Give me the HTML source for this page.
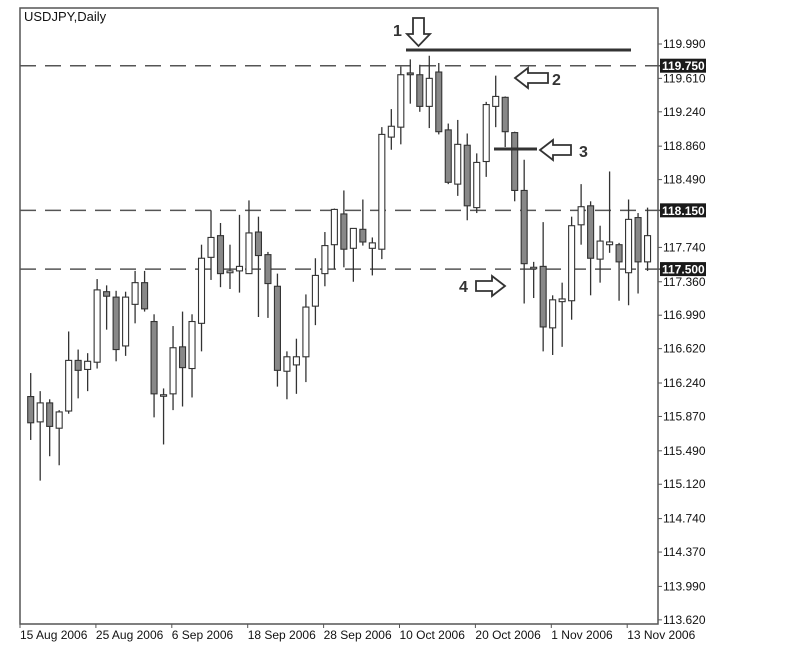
<!DOCTYPE html>
<html><head><meta charset="utf-8"><style>
body{margin:0;background:#fff;}
svg{display:block;font-family:"Liberation Sans",sans-serif;}
</style></head><body>
<svg id="chart" width="804" height="656" xmlns="http://www.w3.org/2000/svg">
<rect x="0" y="0" width="804" height="656" fill="#fff"/>
<text x="24" y="21" font-size="13" fill="#111">USDJPY,Daily</text>
<g id="grid"></g><g id="candles"></g><g id="axes"></g>
<g>
<line x1="406" y1="50" x2="631" y2="50" stroke="#333" stroke-width="3"/>
<path d="M413,18 L424,18 L424,34 L430,34 L418.5,46 L407,34 L413,34 Z" fill="#fff" stroke="#333" stroke-width="1.8"/>
<text x="393" y="36" font-size="16" font-weight="bold" fill="#333">1</text>
<path d="M515,78 L528,68 L528,73 L548,73 L548,83 L528,83 L528,88 Z" fill="#fff" stroke="#333" stroke-width="1.8"/>
<text x="552" y="85" font-size="16" font-weight="bold" fill="#333">2</text>
<line x1="494" y1="149" x2="537" y2="149" stroke="#333" stroke-width="3"/>
<path d="M540,150 L553,140 L553,145 L571,145 L571,155 L553,155 L553,160 Z" fill="#fff" stroke="#333" stroke-width="1.8"/>
<text x="579" y="157" font-size="16" font-weight="bold" fill="#333">3</text>
<path d="M505,286 L492,276 L492,281 L476,281 L476,291 L492,291 L492,296 Z" fill="#fff" stroke="#333" stroke-width="1.8"/>
<text x="459" y="292" font-size="16" font-weight="bold" fill="#333">4</text>
</g>
</svg>
<script>
const opens=[116.09,115.81,116.02,115.74,115.93,116.49,116.39,116.47,117.25,117.19,116.65,117.11,117.35,116.92,116.11,116.12,116.64,116.40,116.90,117.63,117.87,117.46,117.48,117.45,117.91,117.66,117.31,116.37,116.44,116.53,117.09,117.45,117.77,118.11,117.73,117.94,117.73,117.72,118.96,119.07,119.67,119.65,119.30,119.68,119.04,118.44,118.87,118.18,118.69,119.30,119.40,119.01,118.37,117.52,117.53,116.85,117.14,117.15,117.99,118.20,117.61,117.77,117.77,117.46,118.07,117.58];
const highs=[116.35,116.15,116.06,115.94,116.81,116.61,116.57,117.39,117.32,117.26,117.25,117.48,117.48,117.00,116.18,116.87,117.03,117.00,117.77,118.15,118.01,117.77,118.10,118.26,118.08,117.69,117.45,116.59,116.73,117.22,117.62,117.91,118.17,118.37,117.95,118.27,117.85,119.07,119.27,119.74,119.82,119.76,119.86,119.78,119.11,119.15,119.00,118.78,119.35,119.64,119.41,119.02,118.71,117.58,118.02,117.21,117.35,118.08,118.44,118.25,117.98,118.58,117.79,118.27,118.12,118.18];
const lows=[115.61,115.16,115.43,115.33,115.90,116.07,116.15,116.40,116.83,116.48,116.54,116.90,117.03,115.86,115.56,115.94,115.98,116.08,116.59,117.38,117.30,117.28,117.24,117.45,116.97,116.96,116.20,116.06,116.12,116.25,116.88,117.31,117.50,117.52,117.36,117.76,117.43,117.61,118.82,118.88,119.33,119.24,119.06,118.99,118.44,118.31,118.04,118.12,118.52,119.07,118.85,118.25,117.12,117.18,116.59,116.55,116.64,116.94,117.77,117.21,117.35,117.68,117.15,117.10,117.23,117.48];
const closes=[115.80,116.02,115.76,115.92,116.49,116.38,116.48,117.27,117.20,116.61,117.19,117.35,117.06,116.12,116.11,116.63,116.41,116.92,117.62,117.85,117.45,117.48,117.53,117.90,117.65,117.34,116.38,116.53,116.53,117.08,117.43,117.76,118.16,117.72,117.95,117.80,117.79,118.99,119.08,119.65,119.65,119.30,119.61,119.02,118.46,118.88,118.20,118.68,119.32,119.41,119.02,118.37,117.56,117.52,116.86,117.16,117.17,117.98,118.19,117.62,117.81,117.80,117.58,118.05,117.58,117.87];
const yTicks=[119.990,119.610,119.240,118.860,118.490,117.740,117.360,116.990,116.620,116.240,115.870,115.490,115.120,114.740,114.370,113.990,113.620];
const levels=[119.750,118.150,117.500];
const dateLabels=["15 Aug 2006","25 Aug 2006","6 Sep 2006","18 Sep 2006","28 Sep 2006","10 Oct 2006","20 Oct 2006","1 Nov 2006","13 Nov 2006"];

const NS="http://www.w3.org/2000/svg";
const L=20,R=658,T=8,B=624;
function y(p){return 44+(119.99-p)*90.4;}
function x(i){return 30.7+i*9.49;}
function mk(tag,attrs,parent){const e=document.createElementNS(NS,tag);for(const k in attrs)e.setAttribute(k,attrs[k]);parent.appendChild(e);return e;}
const grid=document.getElementById('grid'),cg=document.getElementById('candles'),ax=document.getElementById('axes');

levels.forEach(v=>{
  const ln=mk('line',{x1:L,x2:R+4,y1:y(v),y2:y(v),stroke:'#555','stroke-width':1.5,'stroke-dasharray':'16,9'},grid);
  
  
});

for(let i=0;i<opens.length;i++){
  const g=mk('g',{},cg);
  
  
  const xc=x(i);
  mk('line',{x1:xc,x2:xc,y1:y(highs[i]),y2:y(lows[i]),stroke:'#333','stroke-width':1.3},g);
  const top=y(Math.max(opens[i],closes[i])),bot=y(Math.min(opens[i],closes[i]));
  const bear=closes[i]<opens[i];
  mk('rect',{x:xc-3,y:top,width:6,height:Math.max(bot-top,1.5),fill:bear?'#888':'#fff',stroke:'#333','stroke-width':1.1},g);
}

// frame
const fr=mk('path',{d:`M${L},${T} L${R},${T} L${R},${B} L${L},${B} Z`,fill:'none',stroke:'#555','stroke-width':1.5},ax);


yTicks.forEach(v=>{
  mk('line',{x1:R,x2:R+4,y1:y(v),y2:y(v),stroke:'#555','stroke-width':1},ax);
  const t=mk('text',{x:R+5,y:y(v)+4,'font-size':12,fill:'#111'},ax);
  t.textContent=v.toFixed(3);
  
  
});
levels.forEach(v=>{
  const r=mk('rect',{x:R+2,y:y(v)-7,width:46,height:14,fill:'#1a1a1a'},ax);
  
  
  const t=mk('text',{x:R+4,y:y(v)+4.5,'font-size':12,'font-weight':'bold',fill:'#fff'},ax);
  t.textContent=v.toFixed(3);
  
  
});
dateLabels.forEach((d,k)=>{
  const xt=L+k*75.9;
  mk('line',{x1:xt,x2:xt,y1:B,y2:B+4,stroke:'#555','stroke-width':1},ax);
  const t=mk('text',{x:xt,y:B+15,'font-size':12,fill:'#111'},ax);
  t.textContent=d;
  
  
});
</script>
</body></html>
